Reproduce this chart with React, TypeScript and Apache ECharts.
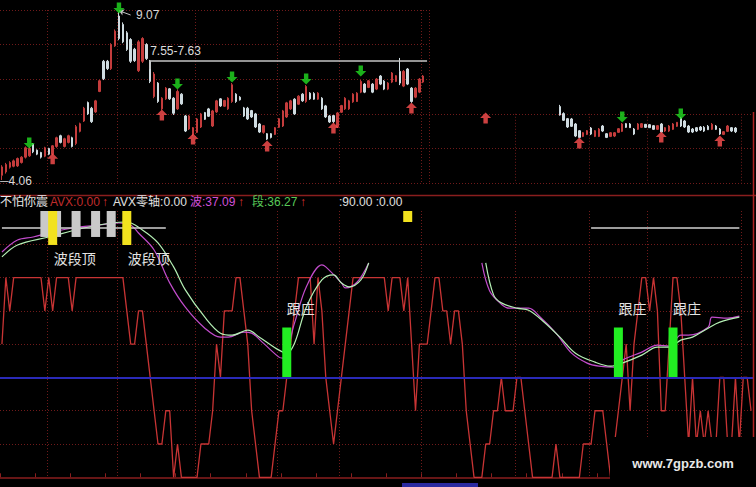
import React, { useEffect, useRef } from 'react';
import * as echarts from 'echarts';

// ---- price pane -------------------------------------------------------
const TOTAL = 193;          // trading days on the shared time axis
const SPLIT = 110;          // first day drawn in the right (lower) price pane
const RIGHT_START = 143;    // first visible day of the right-hand bars

// [open, close, low, high], days 0..108
const leftBars = [
  [4.20, 4.45, 4.06, 4.50], [4.30, 4.52, 4.25, 4.57], [4.44, 4.58, 4.40, 4.62], [4.47, 4.63, 4.44, 4.67],
  [4.48, 4.70, 4.45, 4.73], [4.58, 4.74, 4.55, 4.77], [4.74, 5.02, 4.70, 5.06], [4.78, 5.00, 4.75, 5.05],
  [5.12, 4.90, 4.86, 5.16], [4.95, 4.83, 4.80, 4.97], [4.88, 4.74, 4.70, 4.90], [4.77, 5.02, 4.74, 5.05],
  [5.00, 4.83, 4.80, 5.02], [4.83, 5.08, 4.80, 5.10], [5.06, 5.32, 5.02, 5.35], [5.38, 5.18, 5.15, 5.41],
  [5.06, 5.29, 5.03, 5.32], [5.18, 5.38, 5.15, 5.41], [5.32, 5.06, 5.03, 5.35], [5.15, 5.65, 5.10, 5.70],
  [5.51, 5.74, 5.48, 5.77], [5.82, 6.20, 5.79, 6.24], [6.37, 6.03, 6.00, 6.40], [6.20, 5.80, 5.76, 6.24],
  [6.09, 6.42, 6.06, 6.45], [6.70, 7.02, 6.68, 7.05], [7.60, 7.08, 7.04, 7.64], [7.60, 7.38, 7.34, 7.64],
  [7.38, 8.10, 7.34, 8.14], [8.06, 8.50, 8.03, 8.55], [8.95, 8.28, 8.23, 9.07], [8.70, 8.18, 8.14, 8.76],
  [8.45, 7.95, 7.91, 8.50], [8.25, 7.60, 7.55, 8.29], [7.96, 7.62, 7.58, 8.00], [7.32, 8.18, 7.28, 8.23],
  [7.60, 8.28, 7.55, 8.32], [8.10, 7.68, 7.64, 8.14], [7.60, 7.00, 6.95, 7.64], [6.55, 7.22, 6.50, 7.28],
  [6.95, 6.40, 6.36, 6.98], [6.18, 6.50, 6.15, 6.53], [6.48, 6.80, 6.45, 6.83], [6.78, 6.48, 6.45, 6.80],
  [6.50, 6.05, 6.00, 6.53], [6.18, 6.70, 6.15, 6.76], [6.62, 6.33, 6.30, 6.65], [5.97, 5.52, 5.49, 6.00],
  [5.58, 5.97, 5.55, 6.00], [5.42, 5.62, 5.37, 5.64], [5.48, 5.88, 5.46, 5.91], [5.64, 6.03, 5.61, 6.06],
  [6.07, 5.87, 5.85, 6.09], [6.18, 5.96, 5.94, 6.21], [5.67, 6.12, 5.64, 6.15], [6.09, 6.42, 6.06, 6.45],
  [6.48, 6.27, 6.24, 6.50], [6.26, 6.43, 6.24, 6.45], [6.18, 6.50, 6.15, 6.53], [6.40, 6.90, 6.36, 6.95],
  [6.62, 6.40, 6.36, 6.65], [6.53, 6.45, 6.43, 6.56], [6.21, 5.97, 5.94, 6.24], [6.20, 5.88, 5.85, 6.24],
  [6.13, 5.94, 5.91, 6.15], [6.03, 5.64, 5.61, 6.06], [5.73, 5.49, 5.46, 5.76], [5.48, 5.68, 5.44, 5.70],
  [5.44, 5.28, 5.25, 5.46], [5.44, 5.33, 5.30, 5.46], [5.42, 5.62, 5.40, 5.64], [5.63, 5.89, 5.61, 5.91],
  [5.67, 6.12, 5.64, 6.15], [5.94, 6.36, 5.91, 6.39], [6.18, 6.42, 6.15, 6.45], [6.47, 6.03, 6.00, 6.50],
  [6.32, 6.56, 6.30, 6.59], [6.62, 6.42, 6.39, 6.65], [6.40, 6.85, 6.36, 6.89], [6.65, 6.48, 6.45, 6.68],
  [6.64, 6.47, 6.45, 6.68], [6.47, 6.65, 6.45, 6.68], [6.50, 6.18, 6.15, 6.53], [6.27, 5.94, 5.91, 6.30],
  [5.97, 5.79, 5.76, 6.00], [5.98, 5.80, 5.76, 6.00], [5.65, 6.06, 5.61, 6.09], [6.08, 6.28, 6.06, 6.30],
  [6.18, 6.50, 6.15, 6.53], [6.18, 6.42, 6.15, 6.45], [6.39, 6.62, 6.36, 6.65], [6.40, 6.65, 6.39, 6.68],
  [6.68, 7.00, 6.65, 7.04], [6.92, 6.68, 6.65, 6.95], [6.82, 7.02, 6.80, 7.04], [6.92, 6.68, 6.65, 6.95],
  [6.77, 7.07, 6.74, 7.10], [7.16, 6.92, 6.89, 7.19], [7.01, 6.77, 6.74, 7.04], [6.77, 6.95, 6.74, 6.98],
  [6.98, 7.25, 6.95, 7.28], [7.00, 7.17, 6.98, 7.19], [7.30, 6.95, 6.89, 7.70], [6.86, 7.30, 6.83, 7.34],
  [7.37, 6.92, 6.89, 7.40], [6.80, 6.40, 6.36, 6.83], [6.53, 6.80, 6.50, 6.83], [6.68, 7.07, 6.65, 7.10],
  [6.98, 7.16, 6.95, 7.19],
];

// [open, close, low, high], days 143..188
const rightBars = [
  [6.25, 6.00, 5.98, 6.30], [6.04, 5.84, 5.82, 6.08], [5.89, 5.64, 5.61, 5.91], [5.88, 5.66, 5.64, 5.91],
  [5.73, 5.37, 5.34, 5.76], [5.53, 5.33, 5.31, 5.55], [5.36, 5.47, 5.34, 5.49], [5.42, 5.53, 5.40, 5.55],
  [5.61, 5.43, 5.40, 5.64], [5.36, 5.53, 5.34, 5.55], [5.36, 5.58, 5.34, 5.61], [5.67, 5.52, 5.49, 5.70],
  [5.44, 5.33, 5.31, 5.46], [5.36, 5.47, 5.34, 5.49], [5.37, 5.47, 5.34, 5.49], [5.48, 5.59, 5.46, 5.61],
  [5.51, 5.73, 5.49, 5.76], [5.74, 5.63, 5.61, 5.76], [5.73, 5.62, 5.61, 5.76], [5.58, 5.43, 5.40, 5.61],
  [5.57, 5.73, 5.55, 5.76], [5.63, 5.74, 5.61, 5.76], [5.72, 5.63, 5.61, 5.73], [5.71, 5.62, 5.61, 5.73],
  [5.68, 5.57, 5.55, 5.70], [5.57, 5.68, 5.55, 5.70], [5.73, 5.49, 5.46, 5.76], [5.52, 5.62, 5.49, 5.64],
  [5.52, 5.67, 5.49, 5.70], [5.57, 5.73, 5.55, 5.76], [5.66, 5.78, 5.64, 5.79], [5.91, 5.67, 5.64, 5.94],
  [5.82, 5.64, 5.61, 5.85], [5.67, 5.49, 5.46, 5.70], [5.58, 5.49, 5.46, 5.61], [5.62, 5.52, 5.49, 5.64],
  [5.64, 5.55, 5.52, 5.67], [5.63, 5.52, 5.49, 5.67], [5.66, 5.56, 5.55, 5.70], [5.57, 5.72, 5.55, 5.76],
  [5.67, 5.57, 5.55, 5.70], [5.58, 5.43, 5.40, 5.61], [5.42, 5.50, 5.40, 5.52], [5.51, 5.67, 5.49, 5.70],
  [5.62, 5.52, 5.49, 5.64], [5.61, 5.50, 5.46, 5.64],
];

// arrow signals: [day, price at the arrow]
const sellSignals = [[7, 5.16], [30, 9.19], [45, 6.92], [59, 7.13], [78, 7.07], [92, 7.31], [159, 5.94], [174, 6.03]];
const buySignals = [[13, 4.69], [41, 6.00], [49, 5.28], [68, 5.07], [85, 5.61], [105, 6.21], [124, 5.91], [148, 5.16], [169, 5.34], [184, 5.22]];

const peakPrice = 9.07;
const peakDay = 30;
const lowPrice = 4.06;
const resistanceLow = 7.55;
const resistanceHigh = 7.63;
const resistanceFrom = 38;
const resistanceTo = 109;

// month boundaries (vertical grid lines)
const monthTicks = [12, 30, 50, 71, 87, 108, 132, 151, 166, 190];

// ---- indicator pane (不怕你震) -----------------------------------------
const stepLevels = [
  4, 6, 5, 6, 6, 6, 6, 6, 6, 6, 6, 5, 6, 5, 6, 6, 6, 6, 5, 6,
  6, 6, 6, 6, 6, 6, 6, 6, 6, 6, 6, 6, 5, 4, 4, 5, 5, 4, 3, 2,
  1, 1, 2, 2, 0, 1, 0, 0, 0, 0, 0, 1, 1, 1, 2, 4, 3, 5, 5, 5,
  6, 6, 5, 4, 2, 1, 0, 0, 0, 0, 1, 2, 2, 3, 4, 5, 6, 6, 6, 6,
  4, 6, 5, 3, 2, 1, 2, 3, 4, 5, 6, 6, 6, 6, 6, 6, 6, 6, 6, 5,
  6, 6, 6, 5, 6, 4, 2, 4, 4, 4, 5, 6, 6, 5, 5, 4, 5, 5, 4, 2,
  1, 0, 0, 0, 1, 1, 2, 2, 3, 2, 2, 2, 3, 3, 2, 1, 0, 0, 0, 0,
  0, 0, 1, 0, 0, 0, 0, 0, 0, 1, 1, 1, 2, 2, 2, 1, 0, 1, 2, 3,
  4, 2, 4, 5, 6, 6, 5, 6, 5, 2, 2, 4, 6, 6, 5, 3, 1, 3, 1, 2,
  1, 2, 1, 1, 3, 3, 1, 1, 3, 1, 3, 3, 2,
];

// 波 (purple) and 段 (green) curves: [day, level]
const wavePoints = [
  [0, 6.77], [4, 7.13], [8, 7.22], [12, 7.34], [18, 7.49], [25, 7.58], [30, 7.64], [33, 7.58], [35, 7.34],
  [39, 6.83], [43, 5.84], [47, 5.11], [52, 4.48], [56, 4.21], [58, 4.21], [62, 4.36], [64, 4.33], [67, 4.03],
  [71, 3.61], [72, 3.58], [75, 4.64], [78, 5.72], [82, 6.38], [83, 6.32], [87, 5.84], [88, 5.69], [91, 5.86],
  [94, 6.44], [95, '-'], [123, 6.44], [125, 5.6], [128, 5.2], [130, 5.08], [135, 5.08], [138, 4.81],
  [142, 4.33], [146, 3.73], [150, 3.43], [153, 3.34], [157, 3.31], [159, 3.52], [164, 3.76], [168, 3.97],
  [171, 3.94], [174, 4.27], [176, 4.27], [181, 4.51], [182, 4.81], [186, 4.78], [189, 4.84],
];
const segmentPoints = [
  [0, 6.62], [4, 6.98], [12, 7.22], [21, 7.49], [28, 7.64], [32, 7.67], [36, 7.43], [40, 7.04], [44, 6.32],
  [47, 5.63], [52, 4.81], [56, 4.33], [59, 4.27], [63, 4.42], [66, 4.21], [71, 3.82], [73, 3.73], [75, 4.03],
  [78, 5.11], [82, 5.93], [85, 6.08], [87, 5.84], [89, 5.72], [92, 5.93], [94, 6.44], [95, '-'], [124, 6.44],
  [126, 5.48], [128, 5.24], [132, 5.08], [135, 5.02], [139, 4.66], [143, 4.21], [147, 3.73], [152, 3.46],
  [156, 3.34], [159, 3.43], [164, 3.67], [168, 3.91], [171, 3.91], [174, 4.12], [177, 4.21], [181, 4.48],
  [184, 4.66], [189, 4.81],
];

const zeroAxisLevel = 7.49;
const zeroAxisSpans = [[0, 42], [151, 189]];
const baseLevel = 3;          // blue reference line

const stickTop = 8;
const grayStickLow = 7.22;
const grayStickDays = [11, 14, 19, 24, 28];
const yellowSticks = [[13, 6.98], [32, 6.98], [104, 7.67]]; // [day, lower end]
const waveTopDays = [13, 32];  // 波段顶
const followDays = [73, 158, 172]; // 跟庄
const followTop = 4.5;

// ---- styling ----------------------------------------------------------
const FONT = '"Liberation Sans", "Noto Sans CJK SC", sans-serif';
const UP = '#c43c3c';
const DOWN = '#cfdbe0';
const DOT = { color: '#701a1a', type: [1, 2], width: 1 };
const monthSet = new Set(monthTicks);
const UP_ARROW = 'path://M5,0 L10,5 L7,5 L7,10 L3,10 L3,5 L0,5 Z';
const DOWN_ARROW = 'path://M3,0 L7,0 L7,5 L10,5 L5,10 L0,5 L3,5 Z';

const names = (from: number, to: number) => Array.from({ length: to - from }, (_, k) => String(from + k));

function column(entries: number[][]) {
  const a: any[] = Array(TOTAL).fill('-');
  entries.forEach(([i, v]) => { a[i] = v; });
  return a;
}

function headerText(x: number, text: string, fill: string) {
  return { type: 'text', z: 20, x, y: 202, style: { text, fill, fontSize: 12, fontFamily: FONT, verticalAlign: 'middle' } };
}

function buildOption() {
  const candles: any[] = Array.from({ length: TOTAL }, () => ['-', '-', '-', '-']);
  leftBars.forEach((b, i) => { candles[i] = b; });
  rightBars.forEach((b, k) => { candles[RIGHT_START + k] = b; });

  const sig = (list: number[][], right: boolean) =>
    list.filter(([d]) => (d >= SPLIT) === right).map(([d, p]) => [String(d), p]);

  const catAxis = (gridIndex: number, from: number, to: number) => ({
    type: 'category', gridIndex, data: names(from, to), boundaryGap: true,
    axisLine: { show: false }, axisTick: { show: false }, axisLabel: { show: false },
    splitLine: { show: true, interval: (i: number) => monthSet.has(i + from), lineStyle: DOT },
  });
  const gridLines = (gridIndex: number, max: number) => ({
    type: 'value', gridIndex, min: 0, max, interval: 1,
    axisLine: { show: false }, axisTick: { show: false }, axisLabel: { show: false },
    splitLine: { show: true, lineStyle: DOT },
  });

  const zeroAxisData: any[] = [];
  zeroAxisSpans.forEach(([a, b], k) => {
    if (k > 0) zeroAxisData.push([a - 1, '-']);
    zeroAxisData.push([a, zeroAxisLevel], [b, zeroAxisLevel]);
  });

  const stick = { barWidth: 9, barGap: '-100%', xAxisIndex: 2, yAxisIndex: 4, silent: true, z: 4 };
  const clear = { color: 'rgba(0,0,0,0)' };

  return {
    backgroundColor: '#000',
    animation: false,
    textStyle: { fontFamily: FONT },
    grid: [
      { left: 0, top: 10, width: 429, height: 173 },
      { left: 429, top: 113.8, width: 324, height: 69.2 },
      { left: 0, top: 211, width: 753, height: 266.3 },
    ],
    xAxis: [
      catAxis(0, 0, SPLIT),
      catAxis(1, SPLIT, TOTAL),
      {
        ...catAxis(2, 0, TOTAL),
        offset: 5,
        axisLine: { show: true, lineStyle: { color: '#8a1e1e', width: 1.5 } },
        axisTick: { show: true, inside: true, length: 4, interval: 8, lineStyle: { color: '#8a1e1e' } },
      },
    ],
    yAxis: [
      { type: 'value', gridIndex: 0, min: 3.97, max: 9.13, show: false },
      gridLines(0, 5),
      { type: 'value', gridIndex: 1, min: 3.97, max: 6.034, show: false },
      gridLines(1, 2),
      {
        type: 'value', gridIndex: 2, min: 0, max: 8, interval: 1,
        axisLine: { show: false }, axisTick: { show: false }, axisLabel: { show: false },
        splitLine: {
          show: true,
          lineStyle: {
            type: [1, 2], width: 1,
            color: ['rgba(0,0,0,0)', '#701a1a', '#701a1a', '#701a1a', '#701a1a', '#701a1a', '#701a1a', '#701a1a', 'rgba(0,0,0,0)'],
          },
        },
      },
    ],
    series: [
      {
        type: 'candlestick', xAxisIndex: 0, yAxisIndex: 0, barWidth: 2,
        data: candles.slice(0, SPLIT),
        itemStyle: { color: UP, color0: DOWN, borderColor: UP, borderColor0: DOWN, borderWidth: 1 },
        markLine: {
          silent: true, symbol: ['none', 'none'], symbolSize: 6,
          lineStyle: { color: '#c4c4c4', width: 1.5, type: 'solid' },
          label: { show: false },
          data: [
            [
              {
                coord: [String(resistanceFrom), resistanceHigh],
                label: {
                  show: true, position: 'insideStartTop', distance: [0, 3],
                  formatter: `${resistanceLow.toFixed(2)}-${resistanceHigh.toFixed(2)}`,
                  color: '#dcdcdc', fontSize: 12, fontFamily: FONT,
                },
              },
              { coord: [String(resistanceTo), resistanceHigh] },
            ],
            [{ coord: [String(resistanceFrom), resistanceHigh] }, { coord: [String(resistanceFrom), 7.36] }],
            [
              { coord: [String(peakDay), 9.11], symbol: 'arrow', symbolSize: 5, lineStyle: { width: 1 } },
              { coord: [String(peakDay + 3), 8.98], symbol: 'none' },
            ],
          ],
        },
        markPoint: {
          symbol: 'circle', symbolSize: 0, silent: true,
          label: { show: true, position: 'right', color: '#d8d8d8', fontSize: 12, fontFamily: FONT },
          data: [
            { coord: [String(peakDay), peakPrice], label: { formatter: peakPrice.toFixed(2), offset: [12, 3] } },
            { coord: ['0', lowPrice], label: { formatter: '─' + lowPrice.toFixed(2), offset: [-7, 1] } },
          ],
        },
      },
      {
        type: 'candlestick', xAxisIndex: 1, yAxisIndex: 2, barWidth: 2, clip: true,
        data: candles.slice(SPLIT),
        itemStyle: { color: UP, color0: DOWN, borderColor: UP, borderColor0: DOWN, borderWidth: 1 },
      },
      { type: 'scatter', xAxisIndex: 0, yAxisIndex: 0, clip: false, symbol: DOWN_ARROW, symbolSize: 11, itemStyle: { color: '#22dd22' }, data: sig(sellSignals, false), z: 5 },
      { type: 'scatter', xAxisIndex: 0, yAxisIndex: 0, clip: false, symbol: UP_ARROW, symbolSize: 11, itemStyle: { color: '#ff5050' }, data: sig(buySignals, false), z: 5 },
      { type: 'scatter', xAxisIndex: 1, yAxisIndex: 2, clip: false, symbol: DOWN_ARROW, symbolSize: 11, itemStyle: { color: '#22dd22' }, data: sig(sellSignals, true), z: 5 },
      { type: 'scatter', xAxisIndex: 1, yAxisIndex: 2, clip: false, symbol: UP_ARROW, symbolSize: 11, itemStyle: { color: '#ff5050' }, data: sig(buySignals, true), z: 5 },

      {
        type: 'line', xAxisIndex: 2, yAxisIndex: 4, data: stepLevels, symbol: 'none', z: 2,
        lineStyle: { color: '#c83434', width: 1.3 },
        markLine: {
          silent: true, symbol: ['none', 'none'], label: { show: false },
          lineStyle: { color: '#2a2ab8', width: 2, type: 'solid' },
          data: [{ yAxis: baseLevel }],
        },
      },
      { type: 'line', xAxisIndex: 2, yAxisIndex: 4, data: wavePoints, smooth: 0.35, symbol: 'none', z: 3, lineStyle: { color: '#c24ccc', width: 1.2 } },
      { type: 'line', xAxisIndex: 2, yAxisIndex: 4, data: segmentPoints, smooth: 0.35, symbol: 'none', z: 3, lineStyle: { color: '#b4efb4', width: 1.2 } },
      { type: 'line', xAxisIndex: 2, yAxisIndex: 4, data: zeroAxisData, symbol: 'none', z: 3, lineStyle: { color: '#cfcfcf', width: 1.5 } },

      { ...stick, type: 'bar', stack: 'gray', itemStyle: clear, data: column(grayStickDays.map((d) => [d, grayStickLow])) },
      { ...stick, type: 'bar', stack: 'gray', itemStyle: { color: '#c9c9c9' }, data: column(grayStickDays.map((d) => [d, stickTop - grayStickLow])) },
      { ...stick, type: 'bar', stack: 'yellow', itemStyle: clear, data: column(yellowSticks) },
      {
        ...stick, type: 'bar', stack: 'yellow', itemStyle: { color: '#f2e21e' },
        data: column(yellowSticks.map(([d, lo]) => [d, stickTop - lo])),
        label: {
          show: true, position: 'bottom', distance: 7, offset: [22, 0],
          color: '#e4e4e4', fontSize: 14, fontFamily: FONT,
          formatter: (p: any) => (waveTopDays.includes(p.dataIndex) ? '波段顶' : ''),
        },
      },
      { ...stick, type: 'bar', stack: 'follow', itemStyle: clear, data: column(followDays.map((d) => [d, baseLevel])) },
      {
        ...stick, type: 'bar', stack: 'follow', itemStyle: { color: '#22ee22' },
        data: column(followDays.map((d) => [d, followTop - baseLevel])),
        label: {
          show: true, position: 'top', distance: 12, offset: [14, 0],
          color: '#e4e4e4', fontSize: 14, fontFamily: FONT,
          formatter: '跟庄',
        },
      },
    ],
    graphic: [
      { type: 'line', z: 20, shape: { x1: 0, y1: 195.5, x2: 756, y2: 195.5 }, style: { stroke: '#8a1e1e', lineWidth: 1.5 } },
      { type: 'line', z: 20, shape: { x1: 753.5, y1: 112, x2: 753.5, y2: 487 }, style: { stroke: '#b02222', lineWidth: 1.5 } },
      headerText(0, '不怕你震', '#e8e8e8'),
      headerText(50, 'AVX:0.00', '#c02c2c'),
      headerText(102, '↑', '#d83030'),
      headerText(113, 'AVX零轴:0.00', '#e0e0e0'),
      headerText(190, '波:37.09', '#d050d8'),
      headerText(238, '↑', '#d83030'),
      headerText(252, '段:36.27', '#58c858'),
      headerText(300, '↑', '#d83030'),
      headerText(339, ':90.00 :0.00', '#e0e0e0'),
      { type: 'rect', z: 20, shape: { x: 402, y: 483, width: 76, height: 5 }, style: { fill: '#2a2aa0' } },
      { type: 'rect', z: 30, shape: { x: 610, y: 437, width: 146, height: 50 }, style: { fill: '#000' } },
      {
        type: 'text', z: 31, x: 683, y: 463,
        style: { text: 'www.7gpzb.com', fill: '#e8e8e8', fontSize: 13, fontWeight: 'bold', fontFamily: FONT, align: 'center', verticalAlign: 'middle' },
      },
    ],
  };
}

export default function App() {
  const ref = useRef<HTMLDivElement>(null);
  useEffect(() => {
    const chart = echarts.init(ref.current!, null, { renderer: 'svg' });
    chart.setOption(buildOption() as any);
    return () => chart.dispose();
  }, []);
  return (
    <div
      ref={ref}
      style={{ position: 'fixed', left: 0, top: 0, width: 756, height: 487, background: '#000' }}
    />
  );
}
